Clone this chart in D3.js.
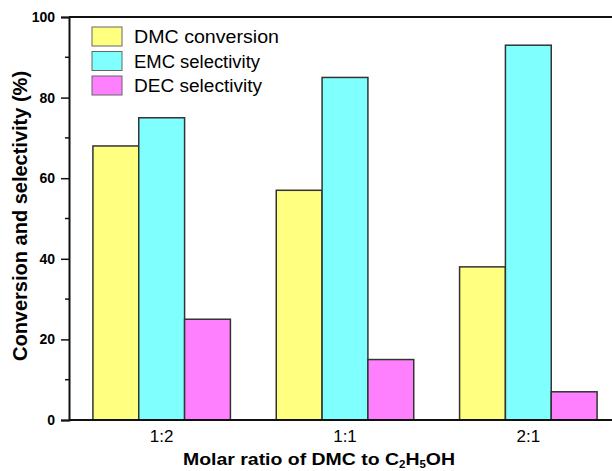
<!DOCTYPE html>
<html>
<head>
<meta charset="utf-8">
<script src="https://cdn.jsdelivr.net/npm/d3@7"></script>
<style>
  body { margin: 0; background: #fff; }
  svg { display: block; font-family: Arial, "Liberation Sans", sans-serif; }
</style>
</head>
<body>
<svg width="612" height="471"></svg>
<script>
// data
const ratios = ["1:2", "1:1", "2:1"];
const series = ["DMC conversion", "EMC selectivity", "DEC selectivity"];
const dmcConversion = [68, 57, 38];
const emcSelectivity = [75, 85, 93];
const decSelectivity = [25, 15, 7];
const colors = ["#ffff80", "#80ffff", "#ff80ff"];
const yTicks = [0, 20, 40, 60, 80, 100];
const yMinor = [10, 30, 50, 70, 90];

const values = [dmcConversion, emcSelectivity, decSelectivity];
const rows = ratios.map((r, i) => ({ratio: r, vals: series.map((s, j) => ({key: s, value: values[j][i], color: colors[j]}))}));

const svg = d3.select("svg");
const plotLeft = 69, plotTop = 17, plotBottom = 420, plotRight = 620;

const y = d3.scaleLinear().domain([0, 100]).range([plotBottom, plotTop]);
const x0 = d3.scaleBand().domain(ratios).range([plotLeft + 1, plotRight])
    .paddingInner(0.25).paddingOuter(0.125);
const x1 = d3.scaleBand().domain(series).range([0, x0.bandwidth()]);

// bars
const groups = svg.append("g").selectAll("g")
    .data(rows)
    .enter()
    .append("g")
    .attr("transform", d => `translate(${x0(d.ratio)},0)`);

groups.selectAll("rect")
    .data(d => d.vals)
    .enter()
    .append("rect")
    .attr("x", d => x1(d.key))
    .attr("y", d => y(d.value))
    .attr("width", x1.bandwidth())
    .attr("height", d => y(0) - y(d.value))
    .attr("fill", d => d.color)
    .attr("stroke", "#333")
    .attr("stroke-width", 1.5);

// frame: bottom and top (right side is cut off)
const frame = svg.append("g").attr("stroke", "#111").attr("stroke-width", 2);
frame.append("line").attr("x1", plotLeft).attr("x2", 612).attr("y1", plotBottom).attr("y2", plotBottom);
frame.append("line").attr("x1", plotLeft).attr("x2", 612).attr("y1", plotTop).attr("y2", plotTop);

// y axis
const yAxis = svg.append("g")
    .attr("transform", `translate(${plotLeft},0)`)
    .call(d3.axisLeft(y).tickValues(yTicks).tickSize(8).tickPadding(6));
yAxis.select(".domain").attr("stroke", "#111").attr("stroke-width", 2);
yAxis.selectAll(".tick line").attr("stroke", "#111").attr("stroke-width", 1.5);
yAxis.selectAll("text")
    .attr("font-size", 14).attr("font-weight", "bold")
    .attr("font-family", "Arial, 'Liberation Sans', sans-serif").attr("fill", "#000");

svg.append("g").selectAll("line")
    .data(yMinor)
    .enter()
    .append("line")
    .attr("x1", plotLeft - 4).attr("x2", plotLeft)
    .attr("y1", d => y(d)).attr("y2", d => y(d))
    .attr("stroke", "#111").attr("stroke-width", 1.5);

// x category labels
svg.append("g").selectAll("text")
    .data(ratios)
    .enter()
    .append("text")
    .attr("x", d => x0(d) + x0.bandwidth() / 2)
    .attr("y", 442)
    .attr("text-anchor", "middle")
    .attr("font-size", 17)
    .text(d => d);

// axis titles
const xTitle = svg.append("text")
    .attr("x", 183).attr("y", 465)
    .attr("font-size", 17).attr("font-weight", "bold")
    .attr("textLength", 272).attr("lengthAdjust", "spacingAndGlyphs");
xTitle.append("tspan").text("Molar ratio of DMC to C");
xTitle.append("tspan").attr("font-size", 10).attr("dy", 3).text("2");
xTitle.append("tspan").attr("dy", -3).text("H");
xTitle.append("tspan").attr("font-size", 10).attr("dy", 3).text("5");
xTitle.append("tspan").attr("dy", -3).text("OH");

svg.append("text")
    .attr("transform", "translate(27,216) rotate(-90)")
    .attr("text-anchor", "middle")
    .attr("font-size", 20).attr("font-weight", "bold")
    .text("Conversion and selectivity (%)");

// legend
const legendWidths = [145, 126, 128];
const legend = svg.append("g").selectAll("g")
    .data(series)
    .enter()
    .append("g")
    .attr("transform", (d, i) => `translate(92,${27 + i * 24.5})`);

legend.append("rect")
    .attr("width", 30).attr("height", 19)
    .attr("fill", (d, i) => colors[i])
    .attr("stroke", "#666").attr("stroke-width", 1);

legend.append("text")
    .attr("x", 42).attr("y", 16)
    .attr("font-size", 18)
    .attr("textLength", (d, i) => legendWidths[i])
    .attr("lengthAdjust", "spacingAndGlyphs")
    .text(d => d);
</script>
</body>
</html>
